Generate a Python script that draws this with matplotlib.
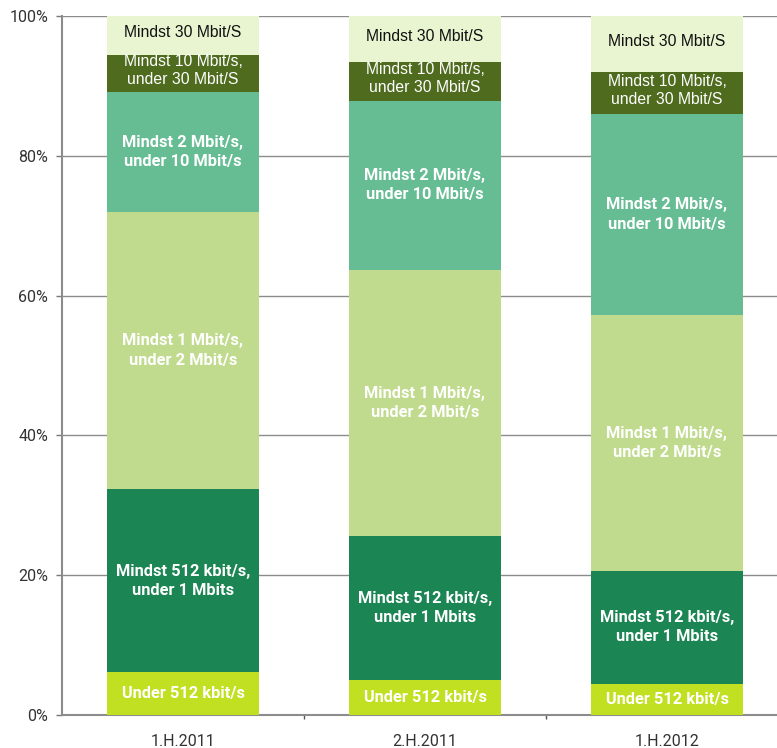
import matplotlib
matplotlib.use("Agg")
import matplotlib.pyplot as plt
import numpy as np

periods = ["1.H.2011", "2.H.2011", "1.H.2012"]
categories = [
    "Under 512 kbit/s",
    "Mindst 512 kbit/s,\nunder 1 Mbits",
    "Mindst 1 Mbit/s,\nunder 2 Mbit/s",
    "Mindst 2 Mbit/s,\nunder 10 Mbit/s",
    "Mindst 10 Mbit/s,\nunder 30 Mbit/S",
    "Mindst 30 Mbit/S",
]
under_512 = [6.15, 5.0, 4.5]
from_512k_to_1m = [26.15, 20.65, 16.1]
from_1m_to_2m = [39.7, 38.05, 36.6]
from_2m_to_10m = [17.1, 24.2, 28.8]
from_10m_to_30m = [5.3, 5.5, 6.0]
from_30m = [5.6, 6.6, 8.0]
series = [under_512, from_512k_to_1m, from_1m_to_2m, from_2m_to_10m, from_10m_to_30m, from_30m]

colors = ["#C1E021", "#1B8553", "#C1DB8E", "#66BD94", "#4E6B1E", "#E8F5D0"]
text_colors = ["white", "white", "white", "white", "white", "#111111"]
bold = [True, True, True, True, False, False]

fig = plt.figure(figsize=(7.77, 7.48), dpi=100)
ax = fig.add_axes([62/777, 33/748, 1 - 62/777, 699/748])

x = np.arange(len(periods))
width = 0.628
bottom = np.zeros(len(periods))
for vals, col, tc, b, lab in zip(series, colors, text_colors, bold, categories):
    vals = np.array(vals)
    ax.bar(x, vals, width, bottom=bottom, color=col, zorder=3)
    for xi, v, bt in zip(x, vals, bottom):
        if b:
            ax.text(xi, bt + v / 2, lab, ha="center", va="center", color=tc,
                    fontsize=11.8, fontweight="bold", family="Roboto",
                    linespacing=1.35, zorder=4)
        else:
            ax.text(xi, bt + v / 2 + 0.4, lab, ha="center", va="center", color=tc,
                    fontsize=11.3, family="Liberation Sans", linespacing=1.25,
                    zorder=4)
    bottom += vals

ax.set_ylim(0, 100)
ax.set_xlim(-0.5, 2.5 - 11/242)
ax.set_yticks(np.arange(0, 101, 20))
ax.set_yticklabels([f"{v}%" for v in range(0, 101, 20)], family="Roboto", fontsize=11.5, color="#333333")
ax.yaxis.grid(True, color="#8C8C8C", linewidth=1.0, zorder=0)
ax.set_xticks(x)
ax.set_xticklabels(periods, family="Roboto", fontsize=11.5, color="#333333")
ax.tick_params(axis="x", length=0, pad=14)
ax.set_xticks([0.5, 1.5], minor=True)
ax.tick_params(axis="x", which="minor", length=3, color="#555555", width=1)
ax.tick_params(axis="y", length=4, color="#777777", width=1, pad=6)
for s in ["top", "right"]:
    ax.spines[s].set_visible(False)
ax.spines["left"].set_color("#8C8C8C")
ax.spines["bottom"].set_color("#8C8C8C")
ax.spines["left"].set_linewidth(1.5)
ax.spines["bottom"].set_linewidth(1.5)

fig.savefig("out.png", dpi=100)
